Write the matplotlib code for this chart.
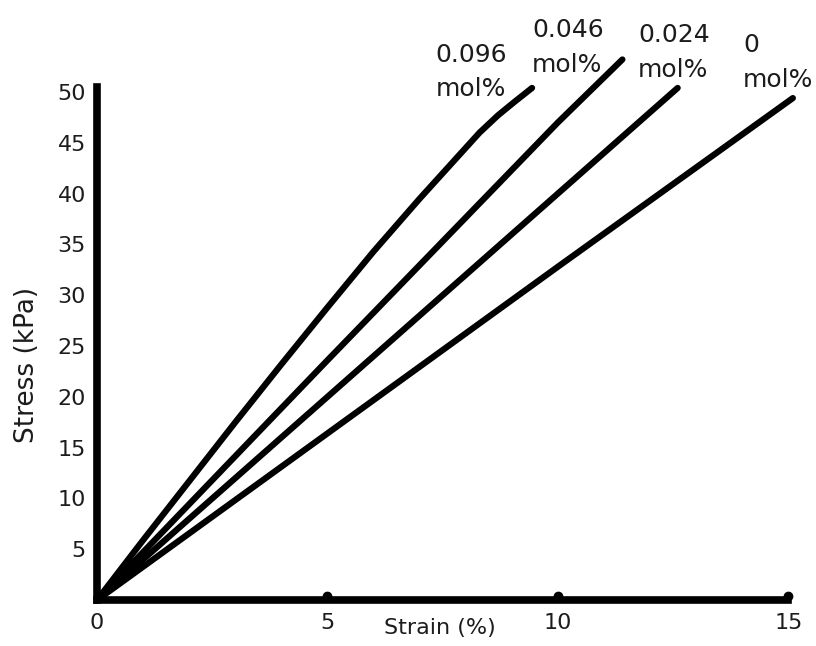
import numpy as np
import matplotlib
matplotlib.use('Agg')
import matplotlib.pyplot as plt

plt.rcParams['font.family'] = ['DejaVu Sans']

# stress-strain curves
x_096 = [0, 1, 2, 3, 4, 5, 6, 7, 7.8, 8.3, 8.7, 9.05, 9.44]
y_096 = [0, 5.9, 11.7, 17.5, 23.2, 28.8, 34.3, 39.5, 43.5, 46.0, 47.7, 49.0, 50.4]
x_046 = [0, 5, 10, 11.4]
y_046 = [0, 23.6, 47, 53.2]
x_024 = [0, 5, 10, 12.6]
y_024 = [0, 20, 40, 50.4]
x_0 = [0, 5, 10, 15.1]
y_0 = [0, 16.4, 32.8, 49.4]

conc = ['0.096', '0.046', '0.024', '0']
unit = 'mol%'
yticks = [5, 10, 15, 20, 25, 30, 35, 40, 45, 50]
xticks = [0, 5, 10, 15]

txt = '#1c1c1c'

fig = plt.figure(figsize=(8.16, 6.46), dpi=100)
ax = fig.add_axes([0.119, 0.0712, 0.847, 0.7864])

for xs, ys in [(x_096, y_096), (x_046, y_046), (x_024, y_024), (x_0, y_0)]:
    ax.plot(xs, ys, color='black', lw=4.5, solid_capstyle='round', solid_joinstyle='round', clip_on=False)

ax.set_xlim(0, 15)
ax.set_ylim(0, 50)

ax.spines['top'].set_visible(False)
ax.spines['right'].set_visible(False)
ax.spines['left'].set_linewidth(5.5)
ax.spines['bottom'].set_linewidth(5.5)
ax.spines['left'].set_bounds(0, 50.5)

ax.set_yticks(yticks)
ax.set_xticks(xticks)
ax.tick_params(axis='y', length=0, pad=8, labelsize=16, labelcolor=txt)
ax.tick_params(axis='x', length=0, pad=9, labelsize=16, labelcolor=txt)
ax.plot([5, 10, 15], [0.4, 0.4, 0.4], 'o', color='black', ms=6, clip_on=False)

ax.set_xlabel('Strain (%)', fontsize=16, color=txt)
ax.xaxis.set_label_coords(0.496, -0.036)
ax.set_ylabel('Stress (kPa)', fontsize=19, color=txt)
ax.yaxis.set_label_coords(-0.0825, 0.462)

# curve labels above the line ends (left edge, baseline of each line)
lab_x = [7.34, 9.44, 11.74, 14.02]
lab_y1 = [52.95, 55.4, 54.9, 53.9]
lab_y2 = [49.6, 52.0, 51.5, 50.5]
for c, lx, y1, y2 in zip(conc, lab_x, lab_y1, lab_y2):
    ax.text(lx, y1, c, fontsize=18, color=txt, ha='left', va='baseline', clip_on=False)
    ax.text(lx, y2, unit, fontsize=18, color=txt, ha='left', va='baseline', clip_on=False)

plt.savefig('out.png', dpi=100)
